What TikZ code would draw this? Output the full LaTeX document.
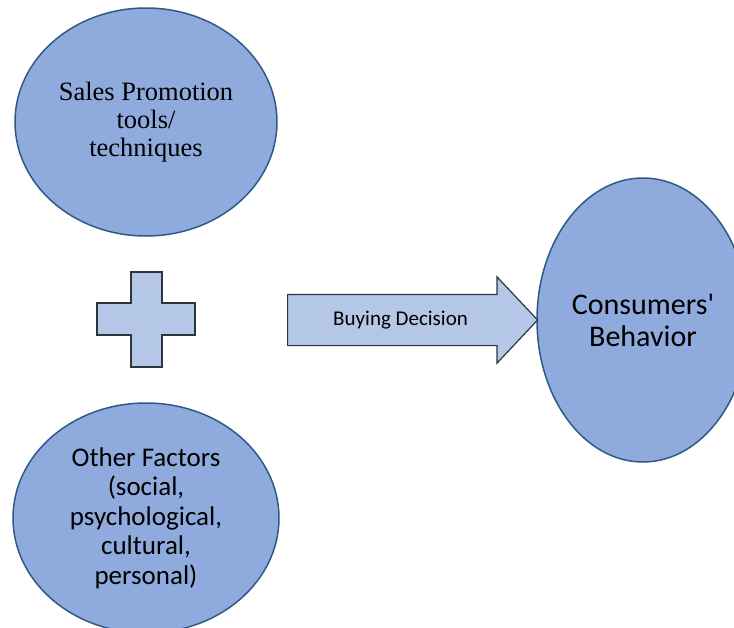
\documentclass[tikz,border=0pt]{standalone}
\usepackage{fontspec}
\setmainfont{Liberation Serif}
\newfontfamily\calibri{Carlito}
\usetikzlibrary{shapes.geometric,shapes.arrows}
\definecolor{ovalfill}{HTML}{8FAADC}
\definecolor{ovalline}{HTML}{2F5A86}
\definecolor{lightfill}{HTML}{B4C7E7}
\definecolor{darkline}{HTML}{2E343D}

\begin{document}
\begin{tikzpicture}[x=1pt,y=-1pt,
		oval/.style={ellipse,draw=ovalline,fill=ovalfill,line width=1.5pt,inner sep=0pt,align=center},
		plusbox/.style={draw=darkline,fill=lightfill,line width=1.5pt,line join=miter},
		bigarrow/.style={single arrow,draw=darkline,fill=lightfill,line width=1.2pt,
			minimum height=250pt,single arrow head extend=17.5pt,single arrow tip angle=93.5,
			text height=14pt,text depth=4pt,inner xsep=4pt,inner ysep=16pt}]
		\useasboundingbox (0,0) rectangle (734,627);
		\clip (0,0) rectangle (734,627);
%		\draw[help lines,step=50] (0,0) grid (734,627);
		\path (146,122) coordinate (promo);
		\path (146,518) coordinate (other);
		\path (643,320) coordinate (consumer);
		\path (287,320) coordinate (tail);

		\node[oval,minimum width=262pt,minimum height=228pt,
			font=\fontsize{26.5}{28}\selectfont] (sales) at (promo)
			{Sales Promotion\\tools/\\techniques};
		\node[oval,minimum width=266pt,minimum height=230pt,
			font=\calibri\fontsize{27}{29.5}\selectfont] (factors) at (other)
			{Other Factors\\(social,\\psychological,\\cultural,\\personal)};
		\node[oval,minimum width=212pt,minimum height=284pt,
			font=\calibri\fontsize{30}{32}\selectfont] (behavior) at (consumer)
			{Consumers'\\Behavior};

		% plus sign
		\draw[plusbox] (131,272) -- (162,272) -- (162,303) -- (195,303)
			-- (195,335) -- (162,335) -- (162,367) -- (131,367) -- (131,335)
			-- (97,335) -- (97,303) -- (131,303) -- cycle;

		\node[bigarrow,anchor=tail,font=\calibri\fontsize{21}{24}\selectfont]
			(decision) at (tail) {Buying Decision};
	\end{tikzpicture}
\end{document}
